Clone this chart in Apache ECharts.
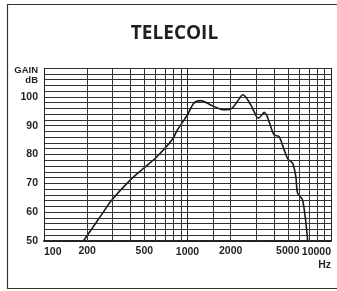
<!DOCTYPE html>
<html>
<head>
<meta charset="utf-8">
<script src="https://cdn.jsdelivr.net/npm/echarts@6/dist/echarts.min.js"></script>
<style>
  html, body { margin: 0; padding: 0; background: #fff; }
  #chart { width: 337px; height: 291px; }
</style>
</head>
<body>
<div id="chart"></div>
<script>
// frequency response (Hz, dB)
var freqs = [188, 250, 297, 400, 500, 614, 781, 850, 1000, 1107, 1233, 1450, 1700, 1850, 2050, 2225, 2430, 2760, 3000, 3120, 3420, 4015, 4350, 4713, 5000, 5396, 5690, 5850, 6340, 6873];
var gains = [50, 58.9, 64.2, 71.2, 75.4, 79.3, 85.1, 88.5, 93.8, 97.8, 98.7, 97.2, 95.7, 95.5, 96.1, 98.4, 100.7, 97.2, 93.5, 92.6, 94.6, 86.8, 86.2, 81.6, 78.5, 77, 72.3, 66.6, 64.2, 50.3];

// extra vertical grid lines and which of them carry a label
var gridFreqs = [200, 300, 400, 500, 600, 700, 800, 900, 1500, 2000, 3000, 4000, 5000, 6000, 7000, 8000, 9000];
var labelFreqs = [200, 500, 2000, 5000];
var gainLabels = [50, 60, 70, 80, 90, 100];

var labelFont = "'Liberation Sans', Arial, sans-serif";

var chart = echarts.init(document.getElementById('chart'), null, { renderer: 'canvas' });

chart.setOption({
    animation: false,
    graphic: [
        {
            type: 'rect',
            shape: { x: 7.5, y: 4.5, width: 340, height: 284 },
            style: { fill: 'none', stroke: '#333', lineWidth: 1.2 },
            silent: true
        },
        {
            type: 'text',
            x: 174.5, y: 33.5,
            style: {
                text: 'TELECOIL', fill: '#231f20',
                font: "bold 19px 'Open Sans', sans-serif",
                textAlign: 'center', textVerticalAlign: 'middle'
            }
        },
        {
            type: 'text',
            x: 38, y: 70,
            style: {
                text: 'GAIN', fill: '#231f20',
                font: "bold 9.5px " + labelFont,
                textAlign: 'right', textVerticalAlign: 'middle'
            }
        },
        {
            type: 'text',
            x: 38, y: 80,
            style: {
                text: 'dB', fill: '#231f20',
                font: "bold 9.5px " + labelFont,
                textAlign: 'right', textVerticalAlign: 'middle'
            }
        }
    ],
    grid: {
        left: 44,
        right: 6,
        top: 68,
        bottom: 50
    },
    xAxis: {
        type: 'log',
        logBase: 10,
        min: 100,
        max: 10000,
        axisLine: { show: true, lineStyle: { color: '#222', width: 2 } },
        axisTick: { show: false },
        axisLabel: {
            color: '#231f20',
            fontFamily: labelFont,
            fontWeight: 'bold',
            fontSize: 10.5,
            margin: 5,
            lineHeight: 13,
            alignMinLabel: 'left',
            alignMaxLabel: 'right',
            formatter: function (v) {
                return v === 10000 ? '10000\nHz' : String(v);
            }
        },
        splitLine: { show: true, lineStyle: { color: '#222', width: 1 } }
    },
    yAxis: {
        type: 'value',
        min: 50,
        max: 110,
        interval: 2,
        axisLine: { show: false },
        axisTick: { show: false },
        axisLabel: {
            color: '#231f20',
            fontFamily: labelFont,
            fontWeight: 'bold',
            fontSize: 10.5,
            margin: 6,
            formatter: function (v) {
                return gainLabels.indexOf(v) >= 0 ? String(v) : '';
            }
        },
        splitLine: { show: true, lineStyle: { color: '#333', width: 1 } }
    },
    series: [{
        type: 'line',
        smooth: 0.3,
        symbol: 'none',
        silent: true,
        lineStyle: { color: '#1a1a1a', width: 1.6 },
        data: freqs.map(function (f, i) { return [f, gains[i]]; }),
        markLine: {
            silent: true,
            symbol: ['none', 'none'],
            animation: false,
            lineStyle: { color: '#333', width: 1, type: 'solid' },
            emphasis: { disabled: true },
            label: {
                position: 'start',
                distance: 5,
                color: '#231f20',
                fontFamily: labelFont,
                fontWeight: 'bold',
                fontSize: 10.5
            },
            data: gridFreqs.map(function (f) {
                return {
                    xAxis: f,
                    label: {
                        show: labelFreqs.indexOf(f) >= 0,
                        formatter: String(f)
                    }
                };
            })
        }
    }]
});

window.addEventListener('resize', function () {
    chart.resize();
});
</script>
</body>
</html>
